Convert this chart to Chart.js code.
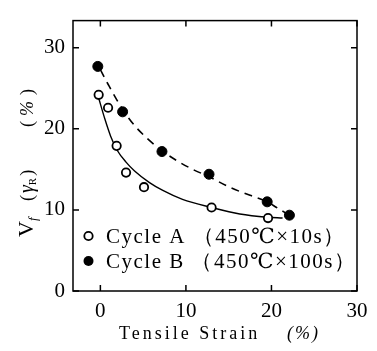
<!DOCTYPE html>
<html>
<head>
<meta charset="utf-8">
<script src="https://cdn.jsdelivr.net/npm/chart.js@4"></script>
<style>
  html, body { margin: 0; padding: 0; background: #fff; }
  #wrap { width: 377px; height: 351px; }
</style>
</head>
<body>
<div id="wrap"><canvas id="chart" width="377" height="351"></canvas></div>
<script>
// measured points
const strainA = [-0.2, 0.9, 1.9, 3.0, 5.1, 13.0, 19.6];
const vfA = [24.2, 22.6, 17.9, 14.6, 12.8, 10.3, 9.0];
const strainB = [-0.3, 2.6, 7.2, 12.7, 19.5, 22.1];
const vfB = [27.7, 22.1, 17.2, 14.4, 11.0, 9.35];

// hand-drawn trend curves
const curveStrainA = [-0.2, 0.5, 1.2, 2.0, 3.0, 4.0, 5.7, 7.3, 9.6, 13.0, 16.3, 19.5, 21.3];
const curveVfA = [23.8, 21.3, 19.1, 17.3, 15.9, 14.8, 13.4, 12.4, 11.3, 10.3, 9.5, 9.1, 9.0];
const curveStrainB = [0.0, 0.9, 2.6, 4.0, 5.5, 7.2, 8.9, 10.8, 12.7, 15.1, 17.5, 19.5, 20.6, 22.1];
const curveVfB = [27.3, 25.5, 22.4, 20.4, 18.8, 17.3, 16.1, 15.0, 14.1, 12.8, 11.8, 11.0, 10.3, 9.35];

const tickValues = [0, 10, 20, 30];
const legendLabels = ["Cycle A （450℃×10s）", "Cycle B （450℃×100s）"];

const serif = '"Liberation Serif", "DejaVu Serif", serif';
const toXY = (xs, ys) => xs.map((x, i) => ({ x: x, y: ys[i] }));

const framePlugin = {
  id: "frame",
  afterDraw(chart) {
    const ctx = chart.ctx;
    const a = chart.chartArea;
    const xs = chart.scales.x, ys = chart.scales.y;
    ctx.save();
    ctx.strokeStyle = "#000";
    ctx.lineWidth = 1.5;
    ctx.strokeRect(a.left, a.top, a.right - a.left, a.bottom - a.top);
    // inward ticks on all four sides
    ctx.beginPath();
    tickValues.forEach(v => {
      const px = xs.getPixelForValue(v);
      ctx.moveTo(px, a.bottom); ctx.lineTo(px, a.bottom - 6);
      ctx.moveTo(px, a.top); ctx.lineTo(px, a.top + 6);
      const py = ys.getPixelForValue(v);
      ctx.moveTo(a.left, py); ctx.lineTo(a.left + 6, py);
      ctx.moveTo(a.right, py); ctx.lineTo(a.right - 6, py);
    });
    ctx.stroke();

    // legend inside plot
    ctx.font = "21px " + serif;
    ctx.textBaseline = "middle";
    ctx.fillStyle = "#000";
    const rows = [236, 261];
    rows.forEach((y, i) => {
      ctx.beginPath();
      ctx.arc(88.5, y, i === 0 ? 4.2 : 5, 0, Math.PI * 2);
      if (i === 0) { ctx.fillStyle = "#fff"; ctx.fill(); ctx.lineWidth = 1.8; ctx.stroke(); }
      else { ctx.fillStyle = "#000"; ctx.fill(); }
      ctx.fillStyle = "#000";
      ctx.letterSpacing = "1.5px";
      ctx.fillText(legendLabels[i], 106, y + 1);
    });

    // x axis title
    ctx.textBaseline = "alphabetic";
    ctx.font = "18px " + serif;
    ctx.letterSpacing = "3px";
    ctx.fillText("Tensile Strain", 119, 339);
    ctx.font = "italic 18px " + serif;
    ctx.letterSpacing = "2px";
    ctx.fillText("(%)", 287, 339);
    ctx.letterSpacing = "0px";

    // y axis title, rotated
    ctx.translate(33, 237);
    ctx.rotate(-Math.PI / 2);
    ctx.font = "22px " + serif;
    ctx.fillText("V", 0, 0);
    let w = ctx.measureText("V").width;
    ctx.font = "italic 13px " + serif;
    ctx.fillText("f", w, 4);
    ctx.font = "18px " + serif;
    ctx.fillText("(", 36, 0);
    let p = 36 + ctx.measureText("(").width + 2;
    ctx.font = "italic 20px " + serif;
    ctx.fillText("γ", p, 0);
    p += ctx.measureText("γ").width;
    ctx.font = "11px " + serif;
    ctx.fillText("R", p, 3);
    p += ctx.measureText("R").width + 2;
    ctx.font = "18px " + serif;
    ctx.fillText(")", p, 0);
    ctx.fillText("(", 110, 0);
    ctx.font = "italic 18px " + serif;
    ctx.fillText("%", 110 + 11, 0);
    ctx.font = "18px " + serif;
    ctx.fillText(")", 110 + 32, 0);
    ctx.restore();
  }
};

const keepTicks = scale => {
  scale.ticks = tickValues.map(v => ({ value: v }));
};

new Chart(document.getElementById("chart").getContext("2d"), {
  type: "scatter",
  data: {
    datasets: [
      {
        label: "Cycle A",
        data: toXY(strainA, vfA),
        pointStyle: "circle",
        pointRadius: 4.2,
        pointBackgroundColor: "#fff",
        pointBorderColor: "#000",
        pointBorderWidth: 1.8,
        order: 0
      },
      {
        label: "Cycle B",
        data: toXY(strainB, vfB),
        pointStyle: "circle",
        pointRadius: 5,
        pointBackgroundColor: "#000",
        pointBorderColor: "#000",
        pointBorderWidth: 1,
        order: 0
      },
      {
        label: "Trend A",
        data: toXY(curveStrainA, curveVfA),
        showLine: true,
        cubicInterpolationMode: "monotone",
        borderColor: "#000",
        borderWidth: 1.4,
        pointRadius: 0,
        order: 1
      },
      {
        label: "Trend B",
        data: toXY(curveStrainB, curveVfB),
        showLine: true,
        cubicInterpolationMode: "monotone",
        borderColor: "#000",
        borderWidth: 1.6,
        borderDash: [8, 6],
        pointRadius: 0,
        order: 1
      }
    ]
  },
  options: {
    responsive: false,
    animation: false,
    layout: { padding: { top: 12, right: 20, left: 0, bottom: 0 } },
    plugins: { legend: { display: false }, tooltip: { enabled: false } },
    scales: {
      x: {
        type: "linear",
        min: -3.2,
        max: 30,
        afterBuildTicks: keepTicks,
        afterFit: s => { s.height = 60; },
        grid: { display: false, drawTicks: false },
        border: { display: false },
        ticks: { color: "#000", padding: 8, font: { family: serif, size: 21 } }
      },
      y: {
        type: "linear",
        min: 0,
        max: 33.35,
        afterBuildTicks: keepTicks,
        afterFit: s => { s.width = 73; },
        grid: { display: false, drawTicks: false },
        border: { display: false },
        ticks: { color: "#000", padding: 8, font: { family: serif, size: 21 } }
      }
    }
  },
  plugins: [framePlugin]
});
</script>
</body>
</html>
